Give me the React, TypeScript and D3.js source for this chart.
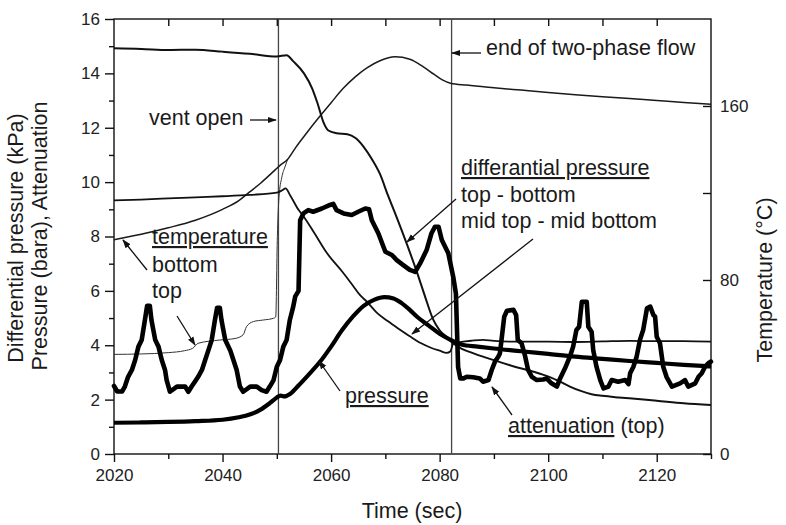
import React, { useEffect, useRef } from 'react';
import * as d3 from 'd3';

const W = 786;
const H = 525;
const M = { left: 114, right: 711, top: 19, bottom: 454 };

const xDomain: [number, number] = [2020, 2130];
const yDomain: [number, number] = [0, 16];
const tempDomain: [number, number] = [0, 200];
const xMajorTicks = [2020, 2040, 2060, 2080, 2100, 2120];
const xMinorTicks = [2030, 2050, 2070, 2090, 2110, 2130];
const xTopTicks = [2030, 2040, 2050, 2060, 2070, 2080, 2090, 2100, 2110, 2120];
const yMajorTicks = [0, 2, 4, 6, 8, 10, 12, 14, 16];
const yMinorTicks = [1, 3, 5, 7, 9, 11, 13, 15];
const tempMajorTicks = [0, 80, 160];
const tempMinorTicks = [40, 120];
const eventTimes = [2050.3, 2082.2];

// pressure (bara)
const pressure: [number, number][] = [
  [2020, 1.15], [2025, 1.16], [2030, 1.18], [2035, 1.21], [2040, 1.26], [2043, 1.35],
  [2045, 1.45], [2047, 1.63], [2048.7, 1.87], [2050, 2.08], [2050.7, 2.15], [2051.4, 2.12],
  [2052.5, 2.22], [2054, 2.52], [2056, 2.95], [2058, 3.4], [2060, 3.95], [2062, 4.55],
  [2064, 5.05], [2066, 5.45], [2068, 5.68], [2069.8, 5.77], [2071.5, 5.72], [2073, 5.55],
  [2074.5, 5.3], [2076, 5.02], [2078, 4.72], [2080, 4.42], [2082, 4.2], [2084, 4.03],
  [2087, 3.95], [2090, 3.88], [2095, 3.78], [2100, 3.68], [2105, 3.58], [2110, 3.5],
  [2115, 3.42], [2120, 3.35], [2125, 3.28], [2130, 3.22],
];

// temperature bottom (°C)
const tempBottom: [number, number][] = [
  [2020, 98.5], [2025, 101], [2030, 104], [2035, 107.5], [2040, 112.5], [2043, 116.5],
  [2045, 120.5], [2047, 124.5], [2049, 129], [2050.5, 132.5], [2052, 135.5], [2053.5, 141],
  [2055, 146], [2058, 155.5], [2060, 161.5], [2062.2, 168], [2064.5, 173.5], [2066.6, 177.5],
  [2069, 180.8], [2071.8, 182.6], [2074.5, 181.5], [2077, 178], [2079, 174.5], [2080.5, 172],
  [2082, 170.5], [2085, 169.6], [2090, 168.4], [2095, 167.3], [2100, 166.2], [2105, 165.2],
  [2110, 164.3], [2115, 163.4], [2120, 162.5], [2125, 161.6], [2130, 160.8],
];

// temperature top (°C)
const tempTop: [number, number][] = [
  [2020, 45.8], [2025, 46], [2030, 46.6], [2033, 47.5], [2034.5, 48.6], [2035.5, 50.9],
  [2039.5, 52.4], [2042.3, 53.1], [2043.8, 54.8], [2044.4, 58.5], [2045.7, 60.9],
  [2047.5, 61.6], [2049.4, 62.4], [2049.8, 63], [2050.1, 100], [2050.4, 118],
  [2050.9, 127], [2051.5, 132], [2052, 135.5],
];

// differential pressure top - bottom (kPa)
const dpTopBottom: [number, number][] = [
  [2020, 14.92], [2025, 14.9], [2030, 14.86], [2035, 14.87], [2040, 14.8], [2045, 14.72],
  [2050, 14.62], [2051.8, 14.67], [2053, 14.45], [2055, 14.0], [2056.5, 13.45], [2057.5, 12.9],
  [2058.6, 12.2], [2059.5, 11.9], [2061, 11.8], [2063, 11.76], [2064.5, 11.62], [2066, 11.3],
  [2067.5, 10.85], [2069, 10.3], [2070.5, 9.5], [2072, 8.75], [2074, 7.7], [2075.8, 6.7],
  [2077.3, 5.8], [2078.8, 4.95], [2080, 4.55], [2081.3, 4.3], [2082.3, 4.1], [2084, 3.88],
  [2086, 3.72], [2088, 3.58], [2091, 3.39], [2094, 3.2], [2096.5, 3.07], [2098.5, 2.95],
  [2100.3, 2.83], [2102, 2.68], [2104, 2.48], [2106, 2.32], [2108, 2.2], [2110, 2.14],
  [2113, 2.08], [2116, 2.03], [2120, 1.96], [2125, 1.87], [2130, 1.8],
];

// differential pressure mid top - mid bottom (kPa)
const dpMid: [number, number][] = [
  [2020, 9.33], [2025, 9.36], [2030, 9.4], [2035, 9.44], [2040, 9.48], [2045, 9.53],
  [2050, 9.61], [2051, 9.7], [2051.6, 9.77], [2052.5, 9.5], [2054, 8.98], [2055, 8.72],
  [2057, 8.1], [2059.2, 7.4], [2062, 6.72], [2064, 6.2], [2065.3, 5.85], [2066.6, 5.6],
  [2068.4, 5.2], [2070.5, 4.88], [2072.5, 4.6], [2074.5, 4.33], [2076.5, 4.08], [2078.5, 3.9],
  [2080, 3.8], [2081.3, 3.72], [2082, 3.78], [2082.5, 4.05], [2084, 4.12], [2086, 4.17],
  [2088, 4.2], [2090, 4.16], [2095, 4.13], [2100, 4.13], [2105, 4.12], [2110, 4.14],
  [2115, 4.16], [2120, 4.15], [2125, 4.15], [2130, 4.13],
];

// attenuation (top)
const attenuation: [number, number][] = [
  [2020, 2.5], [2020.6, 2.3], [2021.5, 2.3], [2022, 2.48], [2022.6, 2.84], [2023.3, 3.09],
  [2023.9, 3.46], [2024.5, 3.95], [2025.1, 4.19], [2025.7, 4.93], [2026.1, 5.45], [2026.6, 5.45],
  [2026.9, 4.93], [2027.6, 4.19], [2028.2, 3.95], [2028.8, 3.46], [2029.4, 3.09], [2029.7, 2.72],
  [2030.3, 2.29], [2031.6, 2.48], [2033.1, 2.48], [2033.7, 2.29], [2034.3, 2.48], [2034.9, 2.66],
  [2035.5, 2.84], [2036.2, 3.09], [2036.8, 3.46], [2037.4, 3.82], [2038.0, 4.19], [2038.6, 4.93],
  [2039.0, 5.38], [2039.5, 5.38], [2039.8, 4.93], [2040.5, 4.19], [2041.4, 3.82], [2042.0, 3.46],
  [2042.6, 3.09], [2043.2, 2.48], [2043.8, 2.29], [2045.1, 2.48], [2046.3, 2.48], [2047.2, 2.35],
  [2048.1, 2.29], [2048.7, 2.48], [2049.4, 2.72], [2050.0, 3.21], [2050.6, 3.46], [2051.2, 3.95],
  [2051.8, 4.19], [2052.4, 4.93], [2053.0, 5.4], [2053.4, 5.8], [2054.0, 6.0], [2054.3, 8.6],
  [2054.9, 8.85], [2055.8, 8.97], [2056.7, 8.91], [2058.3, 9.03], [2059.8, 9.16], [2060.4, 9.2],
  [2061.0, 8.97], [2062.3, 8.85], [2063.8, 8.79], [2065.0, 8.91], [2066.3, 9.03], [2067.0, 9.0],
  [2067.5, 8.6], [2068.1, 8.36], [2068.7, 8.12], [2069.4, 7.75], [2070.0, 7.44], [2071.2, 7.32],
  [2072.1, 7.13], [2073.3, 6.95], [2074.5, 6.77], [2075.5, 6.7], [2076.4, 7.01], [2077.6, 7.5],
  [2078.5, 8.12], [2079.15, 8.36], [2079.8, 8.36], [2080.4, 7.87], [2081.6, 7.38], [2082.5, 6.52],
  [2083.0, 5.9], [2083.4, 3.2], [2083.8, 2.78], [2084.4, 2.78], [2085.0, 2.84], [2086.2, 2.82],
  [2087.4, 2.78], [2088.0, 2.66], [2089.0, 2.72], [2089.6, 3.09], [2090.2, 3.4], [2090.8, 3.58],
  [2091.1, 3.7], [2091.4, 4.19], [2091.9, 5.05], [2092.4, 5.27], [2093.6, 5.3], [2094.1, 5.11],
  [2094.4, 4.19], [2095.1, 4.07], [2095.7, 3.64], [2096.3, 3.09], [2097.0, 2.84], [2097.9, 2.72],
  [2099.1, 2.74], [2099.7, 2.78], [2100.6, 2.6], [2101.6, 2.48], [2102.2, 2.78], [2103.1, 3.15],
  [2104.0, 3.58], [2104.6, 3.95], [2105.2, 4.56], [2105.7, 4.68], [2106.2, 5.6], [2107.1, 5.6],
  [2107.4, 4.68], [2108.0, 4.5], [2108.3, 3.82], [2108.9, 3.21], [2109.6, 2.72], [2110.2, 2.41],
  [2111.1, 2.48], [2111.7, 2.72], [2112.9, 2.66], [2114.2, 2.72], [2114.8, 2.57], [2115.1, 2.97],
  [2115.7, 3.21], [2116.3, 3.58], [2116.9, 4.19], [2117.5, 4.56], [2118.2, 5.36], [2118.8, 5.42],
  [2119.4, 5.11], [2119.7, 5.05], [2120.0, 4.31], [2120.6, 4.07], [2121.2, 3.21], [2121.8, 2.84],
  [2122.8, 2.48], [2124.3, 2.6], [2125.2, 2.72], [2125.8, 2.48], [2127.1, 2.6], [2127.7, 2.84],
  [2128.3, 2.97], [2128.9, 3.21], [2129.5, 3.34], [2130, 3.4],
];

const FONT = "'Liberation Sans', Arial, Helvetica, sans-serif";
const INK = '#111';

export default function App() {
  const ref = useRef<SVGSVGElement>(null);
  const x = d3.scaleLinear().domain(xDomain).range([M.left, M.right]);
  const y = d3.scaleLinear().domain(yDomain).range([M.bottom, M.top]);
  const yT = d3.scaleLinear().domain(tempDomain).range([M.bottom, M.top]);

  const lineL = d3.line<[number, number]>().x(d => x(d[0])).y(d => y(d[1]));
  const lineLs = d3.line<[number, number]>().x(d => x(d[0])).y(d => y(d[1])).curve(d3.curveMonotoneX);
  const lineT = d3.line<[number, number]>().x(d => x(d[0])).y(d => yT(d[1])).curve(d3.curveMonotoneX);

  useEffect(() => {
    const svg = d3.select(ref.current);
    svg.selectAll('g.ax').remove();
    const style = (g: any, labelled: boolean) => {
      g.select('.domain').remove();
      g.selectAll('line').attr('stroke', INK).attr('stroke-width', 1.4);
      if (labelled) {
        g.selectAll('text').attr('font-size', 17).attr('font-family', FONT).attr('fill', '#222');
      } else {
        g.selectAll('text').remove();
      }
    };
    const axes = svg.insert('g', ':first-child').attr('class', 'ax');
    axes.append('g').attr('transform', `translate(0,${M.bottom})`)
      .call(d3.axisBottom(x).tickValues(xMajorTicks).tickSize(8).tickPadding(7).tickFormat(d3.format('d')) as any)
      .call((g: any) => style(g, true));
    axes.append('g').attr('transform', `translate(0,${M.bottom})`)
      .call(d3.axisBottom(x).tickValues(xMinorTicks).tickSize(5) as any)
      .call((g: any) => style(g, false));
    axes.append('g').attr('transform', `translate(0,${M.top})`)
      .call(d3.axisTop(x).tickValues(xTopTicks).tickSize(-7) as any)
      .call((g: any) => style(g, false));
    axes.append('g').attr('transform', `translate(${M.left},0)`)
      .call(d3.axisLeft(y).tickValues(yMajorTicks).tickSize(9).tickPadding(5) as any)
      .call((g: any) => style(g, true));
    axes.append('g').attr('transform', `translate(${M.left},0)`)
      .call(d3.axisLeft(y).tickValues(yMinorTicks).tickSize(5) as any)
      .call((g: any) => style(g, false));
    axes.append('g').attr('transform', `translate(${M.right},0)`)
      .call(d3.axisRight(yT).tickValues(tempMajorTicks).tickSize(-8).tickPadding(9) as any)
      .call((g: any) => style(g, true));
    axes.append('g').attr('transform', `translate(${M.right},0)`)
      .call(d3.axisRight(yT).tickValues(tempMinorTicks).tickSize(-8) as any)
      .call((g: any) => style(g, false));
  }, []);

  const annFont = { fontFamily: FONT, fontSize: 21.5, fill: '#1a1a1a' } as const;

  return (
    <svg ref={ref} width={W} height={H} style={{ position: 'absolute', left: 0, top: 0, background: '#fff' }}>
      <defs>
        <marker id="ah" viewBox="0 0 10 10" refX="9" refY="5" markerWidth="9" markerHeight="9"
          markerUnits="userSpaceOnUse" orient="auto">
          <path d="M0,1.5 L10,5 L0,8.5 Z" fill={INK} />
        </marker>
      </defs>
      <rect x={M.left} y={M.top} width={M.right - M.left} height={M.bottom - M.top}
        fill="none" stroke={INK} strokeWidth={1.4} />
      {eventTimes.map(t => (
        <line key={t} x1={x(t)} x2={x(t)} y1={M.top} y2={M.bottom} stroke="#444" strokeWidth={1.3} />
      ))}
      <path d={lineT(tempTop) || ''} fill="none" stroke="#333" strokeWidth={1.0} />
      <path d={lineT(tempBottom) || ''} fill="none" stroke="#1a1a1a" strokeWidth={1.5} />
      <path d={lineLs(dpTopBottom) || ''} fill="none" stroke={INK} strokeWidth={2} />
      <path d={lineLs(dpMid) || ''} fill="none" stroke={INK} strokeWidth={1.8} />
      <path d={lineLs(pressure) || ''} fill="none" stroke="#000" strokeWidth={4.2} strokeLinejoin="round" />
      <path d={lineL(attenuation) || ''} fill="none" stroke="#000" strokeWidth={4.6} strokeLinejoin="round" strokeLinecap="round" />

      <text x={149} y={125} {...annFont}>vent open</text>
      <line x1={250} y1={120} x2={276} y2={120} stroke={INK} strokeWidth={1.3} markerEnd="url(#ah)" />

      <text x={486} y={55} {...annFont}>end of two-phase flow</text>
      <line x1={481} y1={53} x2={452} y2={53} stroke={INK} strokeWidth={1.3} markerEnd="url(#ah)" />

      <text x={461} y={175} {...annFont} textDecoration="underline">differantial pressure</text>
      <text x={461} y={202} {...annFont}>top - bottom</text>
      <text x={461} y={228} {...annFont}>mid top - mid bottom</text>
      <line x1={456} y1={199} x2={407} y2={242} stroke={INK} strokeWidth={1.3} markerEnd="url(#ah)" />
      <line x1={533} y1={239} x2={412} y2={334} stroke={INK} strokeWidth={1.3} markerEnd="url(#ah)" />

      <text x={152} y={244} {...annFont} textDecoration="underline">temperature</text>
      <text x={152} y={272} {...annFont}>bottom</text>
      <text x={152} y={298} {...annFont}>top</text>
      <line x1={147} y1={270} x2={123} y2={240} stroke={INK} strokeWidth={1.3} markerEnd="url(#ah)" />
      <line x1={177} y1={316} x2={195} y2={345} stroke={INK} strokeWidth={1.3} markerEnd="url(#ah)" />

      <text x={345} y={403} {...annFont} textDecoration="underline">pressure</text>
      <line x1={340} y1={391} x2={319} y2={361} stroke={INK} strokeWidth={1.3} markerEnd="url(#ah)" />

      <text x={508} y={433} {...annFont}><tspan textDecoration="underline">attenuation</tspan> (top)</text>
      <line x1={512} y1={415} x2={492} y2={387} stroke={INK} strokeWidth={1.3} markerEnd="url(#ah)" />

      <text transform="translate(23,238) rotate(-90)" textAnchor="middle" {...annFont}>Differential pressure (kPa)</text>
      <text transform="translate(47,236) rotate(-90)" textAnchor="middle" {...annFont}>Pressure (bara), Attenuation</text>
      <text transform="translate(772,280) rotate(-90)" textAnchor="middle" {...annFont}>Temperature (°C)</text>
      <text x={412} y={518} textAnchor="middle" {...annFont}>Time (sec)</text>
    </svg>
  );
}
